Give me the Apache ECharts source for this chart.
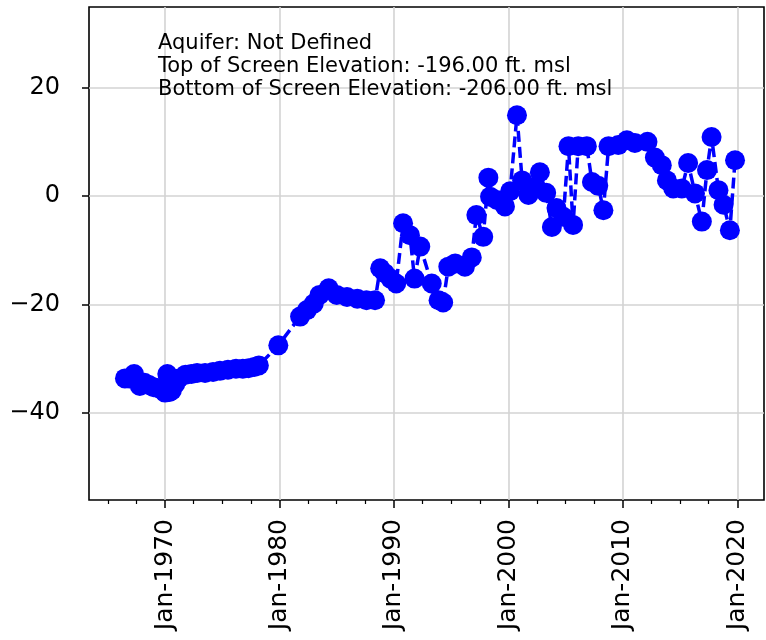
<!DOCTYPE html>
<html><head><meta charset="utf-8">
<script src="https://cdn.jsdelivr.net/npm/echarts@6/dist/echarts.min.js"></script>
<style>html,body{margin:0;padding:0;background:#fff}#c{width:766px;height:640px}</style>
</head><body><div id="c"></div>
<script>
const years = [1966.5,1966.9,1967.3,1967.8,1968.2,1968.6,1969.0,1969.4,1969.8,1970.0,1970.2,1970.4,1970.6,1970.9,1971.2,1971.8,1972.3,1972.8,1973.5,1974.2,1974.8,1975.5,1976.2,1976.8,1977.3,1977.8,1978.2,1979.9,1981.8,1982.4,1983.0,1983.5,1984.3,1985.0,1985.9,1986.8,1987.6,1988.35,1988.8,1989.2,1989.7,1990.2,1990.8,1991.4,1991.8,1992.3,1993.3,1993.9,1994.3,1994.75,1995.35,1996.2,1996.8,1997.2,1997.8,1998.25,1998.4,1999.0,1999.7,2000.15,2000.75,2001.2,2001.75,2002.15,2002.75,2003.3,2003.8,2004.2,2004.8,2005.25,2005.65,2006.1,2006.85,2007.3,2007.85,2008.3,2008.75,2009.6,2010.35,2011.05,2012.15,2012.8,2013.4,2013.85,2014.4,2015.15,2015.7,2016.3,2016.9,2017.35,2017.75,2018.35,2018.8,2019.35,2019.8];
const levels = [-33.6,-33.6,-32.8,-35.0,-34.4,-34.8,-35.2,-35.4,-35.8,-36.2,-32.8,-36.1,-35.8,-34.6,-33.6,-32.9,-32.8,-32.6,-32.6,-32.4,-32.2,-32.0,-31.8,-31.8,-31.7,-31.5,-31.2,-27.5,-22.2,-21.0,-19.8,-18.2,-17.0,-18.2,-18.6,-18.9,-19.2,-19.2,-13.3,-14.2,-15.2,-16.1,-5.0,-7.2,-15.2,-9.3,-16.1,-19.2,-19.6,-13.0,-12.4,-13.0,-11.3,-3.5,-7.5,3.4,-0.1,-0.7,-1.9,0.9,14.9,2.9,0.2,1.7,4.4,0.6,-5.7,-2.2,-3.8,9.2,-5.3,9.2,9.2,2.6,1.9,-2.6,9.2,9.4,10.3,9.8,10.0,7.1,5.7,2.9,1.4,1.4,6.1,0.5,-4.7,4.8,10.9,1.1,-1.6,-6.3,6.6];
const xMajorTicks = [1970,1980,1990,2000,2010,2020];
const xMinorTicks = [1965,1967.5,1972.5,1975,1977.5,1982.5,1985,1987.5,1992.5,1995,1997.5,2002.5,2005,2007.5,2012.5,2015,2017.5,2022.5];
const yTicks = [-40,-20,0,20];
const infoLines = ['Aquifer: Not Defined','Top of Screen Elevation: -196.00 ft. msl','Bottom of Screen Elevation: -206.00 ft. msl'];

const FONT = 'DejaVu Sans';
const xMin = 1963.36, xMax = 2022.33, yMin = -56.0, yMax = 34.85;
const chart = echarts.init(document.getElementById('c'), null, {renderer:'canvas'});
chart.setOption({
  animation:false,
  grid:{left:89,right:2,top:7,bottom:140,show:true,borderColor:'#000',borderWidth:1.6,backgroundColor:'transparent'},
  xAxis:[{
    type:'value',min:xMin,max:xMax,position:'bottom',
    axisLine:{show:false,onZero:false},
    axisTick:{show:true,length:8,lineStyle:{color:'#000',width:1.5},customValues:xMajorTicks},
    axisLabel:{show:true,customValues:xMajorTicks,rotate:90,margin:19,fontFamily:FONT,fontSize:25,color:'#000',formatter:v=>'Jan-'+Math.round(v)},
    splitLine:{show:true,lineStyle:{color:'#d3d3d3',width:1.6}}
  },{
    type:'value',min:xMin,max:xMax,position:'bottom',
    axisLine:{show:false,onZero:false},
    axisTick:{show:true,length:4,lineStyle:{color:'#000',width:1.2},customValues:xMinorTicks},
    axisLabel:{show:false},
    splitLine:{show:false}
  }],
  yAxis:{
    type:'value',min:yMin,max:yMax,
    axisLine:{show:false,onZero:false},
    axisTick:{show:true,length:7,lineStyle:{color:'#000',width:1.5},customValues:yTicks},
    axisLabel:{show:true,customValues:yTicks,margin:29,fontFamily:FONT,fontSize:24,color:'#000',formatter:v=>v<0?'\u2212'+Math.abs(v):String(v)},
    splitLine:{show:true,lineStyle:{color:'#d3d3d3',width:1.6}}
  },
  graphic:infoLines.map((t,i)=>({type:'text',left:158,top:33+i*23,z:100,style:{text:t,font:'21px "DejaVu Sans"',fill:'#000'}})),
  series:[{
    type:'line',
    data:years.map((y,i)=>[y,levels[i]]),
    symbol:'circle',symbolSize:20,showAllSymbol:true,
    itemStyle:{color:'#0000ff'},
    lineStyle:{color:'#0000ff',width:3.5,type:[11,5]},
    z:3
  }]
});
</script></body></html>
